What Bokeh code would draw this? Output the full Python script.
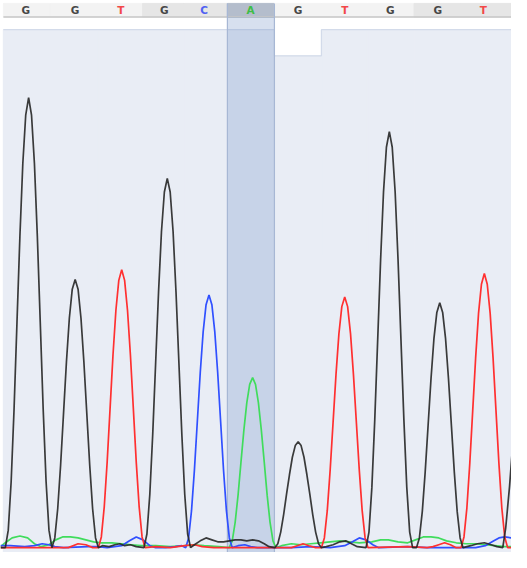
from bokeh.plotting import figure
from bokeh.models import Range1d, ColumnDataSource
from bokeh.embed import file_html
from bokeh.resources import INLINE
from bokeh.core.properties import value

# ---------------- data ----------------
bases = ["G", "G", "T", "G", "C", "A", "G", "T", "G", "G", "T"]
base_pos = [26, 77, 124, 169, 210, 258, 307, 355, 402, 451, 498]
quality = [60, 60, 60, 60, 60, 60, 57, 60, 60, 60, 60]
header_shade = ["light", "light", "light", "dark", "dark", "selected",
                "light", "light", "light", "dark", "dark"]
selected_index = 5

trace_G_x = [0, 5, 8, 11, 14, 17, 20, 23, 26, 29, 32, 35, 38, 41, 44, 47, 50, 53,
             56, 59, 62, 65, 68, 71, 74, 77, 80, 83, 86, 89, 92, 95, 98, 101,
             105, 112, 118, 123, 128, 134, 140,
             148, 151, 154, 157, 160, 163, 166, 169, 172, 175, 178, 181, 184, 187, 190, 193, 196,
             200, 206, 212, 218, 224, 230, 236, 242, 248, 254, 260, 266, 272, 277,
             283, 286, 289, 292, 295, 298, 301, 304, 307, 310, 313, 316, 319, 322, 325, 328, 331,
             336, 343, 350, 356, 362, 368,
             377, 380, 383, 386, 389, 392, 395, 398, 401, 404, 407, 410, 413, 416, 419, 422, 425,
             429, 432, 435, 438, 441, 444, 447, 450, 453, 456, 459, 462, 465, 468, 471, 474, 477,
             485, 492, 499, 506, 512, 518, 521, 525, 530]
trace_G_y = [0, 0, 18, 68, 143, 232, 320, 395, 445, 463, 445, 395, 320, 232, 143, 68, 18, 0,
             10, 40, 85, 138, 191, 236, 266, 276, 266, 236, 191, 138, 85, 40, 10, 0,
             2, 1, 3, 4, 2, 3, 1,
             0, 14, 55, 117, 190, 263, 325, 366, 380, 366, 325, 263, 190, 117, 55, 14, 0,
             3, 7, 10, 8, 6, 6, 7, 8, 8, 7, 8, 7, 4, 1,
             0, 4, 16, 34, 55, 75, 93, 105, 109, 105, 93, 75, 55, 34, 16, 4, 0,
             1, 3, 6, 7, 4, 1,
             0, 16, 62, 132, 214, 296, 366, 412, 428, 412, 366, 296, 214, 132, 62, 16, 0,
             0, 10, 37, 78, 126, 174, 215, 242, 252, 242, 215, 174, 126, 78, 37, 10, 0,
             2, 4, 5, 3, 1, 0, 20, 63, 130]

trace_T_x = [0, 70, 80, 88, 95,
             101, 104, 107, 110, 113, 116, 119, 122, 125, 128, 131, 134, 137, 140, 143, 146, 149,
             160, 175, 190, 200, 208, 220,
             300, 306, 312, 318, 325,
             331, 334, 337, 340, 343, 346, 349, 352, 355, 358, 361, 364, 367, 370, 373, 376, 379,
             420, 440, 446, 452, 458, 464, 470,
             475, 478, 481, 484, 487, 490, 493, 496, 499, 502, 505, 508, 511, 514, 517, 520, 523,
             527]
trace_T_y = [0, 0, 4, 3, 0,
             0, 11, 42, 88, 143, 198, 244, 275, 286, 275, 244, 198, 143, 88, 42, 11, 0,
             1, 0, 2, 3, 1, 0,
             0, 2, 4, 2, 0,
             0, 10, 38, 80, 129, 178, 220, 248, 258, 248, 220, 178, 129, 80, 38, 10, 0,
             1, 0, 1, 3, 5, 3, 0,
             0, 11, 41, 87, 141, 195, 241, 271, 282, 271, 241, 195, 141, 87, 41, 11, 0,
             0]

trace_C_x = [0, 10, 25, 35, 43, 50, 56, 65, 90, 100, 110, 125, 133, 140, 147, 154, 160, 170, 180, 187,
             191, 194, 197, 200, 203, 206, 209, 212, 215, 218, 221, 224, 227, 230, 233, 236, 239,
             245, 252, 258, 265, 300, 320, 340, 355, 363, 370, 377, 384, 390, 420, 440, 490, 500,
             507, 514, 520, 527]
trace_C_y = [2, 2, 1, 2, 4, 3, 1, 0, 1, 1, 0, 2, 7, 11, 8, 2, 0, 0, 1, 2,
             0, 10, 38, 80, 130, 180, 222, 250, 260, 250, 222, 180, 130, 80, 38, 10, 0,
             2, 3, 1, 0, 0, 1, 0, 2, 6, 10, 8, 3, 0, 1, 0, 0, 2,
             6, 10, 11, 10]

trace_A_x = [0, 5, 12, 20, 28, 35, 42, 50, 57, 64, 72, 80, 88, 96, 104, 115, 125, 135, 145, 160,
             175, 190, 200, 210, 225,
             236, 239, 242, 245, 248, 251, 254, 257, 260, 263, 266, 269, 272, 275, 278, 281, 284,
             290, 300, 310, 320, 330, 340, 350, 360, 370, 383, 392, 400, 410, 420, 428, 436, 444,
             452, 460, 470, 480, 490, 500, 510, 520, 527]
trace_A_y = [1, 5, 10, 12, 10, 4, 1, 3, 8, 11, 11, 10, 8, 6, 5, 5, 4, 3, 2, 2,
             1, 2, 3, 2, 1,
             0, 7, 26, 54, 88, 121, 149, 168, 175, 168, 149, 121, 88, 54, 26, 7, 0,
             2, 4, 3, 4, 5, 6, 7, 6, 5, 6, 8, 8, 6, 5, 8, 11, 11,
             10, 7, 5, 4, 4, 3, 2, 1, 1]

# ---------------- styling / layout ----------------
letter_colors = {"G": "#474747", "T": "#f24848", "C": "#5060f2", "A": "#3dbd45"}
trace_colors = {"G": "#262626", "T": "#ff3030", "C": "#3050ff", "A": "#40dc5c"}
shade_colors = {"light": "#f3f3f3", "dark": "#e6e6e6", "selected": "#b4bdcc"}
QFILL = "#e9edf5"

X0, X1 = 3, 527
HEADER_BOTTOM, HEADER_TOP, LETTER_Y = 546, 560, 553

bounds = [X0] + [(a + b) / 2 for a, b in zip(base_pos[:-1], base_pos[1:])] + [X1]

p = figure(width=511, height=552, output_backend="svg", toolbar_location=None,
           x_range=Range1d(0, 527), y_range=Range1d(-5, 563),
           x_axis_type=None, y_axis_type=None, min_border=0,
           background_fill_color="white", border_fill_color="white",
           outline_line_color=None)
p.extra_y_ranges = {"q": Range1d(0, 63.35)}

# quality bars (background) - stroked with their own fill colour to hide seams
qsrc = ColumnDataSource(dict(left=bounds[:-1], right=bounds[1:], top=quality,
                             bottom=[0] * len(quality)))
p.quad(left="left", right="right", top="top", bottom="bottom", source=qsrc,
       y_range_name="q", fill_color=QFILL, line_color=QFILL, line_width=1.2)
ox, oy = [], []
for i, q in enumerate(quality):
    ox += [bounds[i], bounds[i + 1]]
    oy += [q, q]
p.line(ox, oy, y_range_name="q", line_color="#d3dbea", line_width=1.2)

# header cells
hsrc = ColumnDataSource(dict(left=bounds[:-1], right=bounds[1:],
                             color=[shade_colors[s] for s in header_shade]))
p.quad(left="left", right="right", top=HEADER_TOP, bottom=HEADER_BOTTOM, source=hsrc,
       fill_color="color", line_color="color", line_width=1)
p.segment(x0=[X0], y0=[HEADER_BOTTOM], x1=[X1], y1=[HEADER_BOTTOM],
          line_color="#c6c6c6", line_width=1.5)

# selected column highlight
sl, sr = bounds[selected_index], bounds[selected_index + 1]
p.quad(left=[sl], right=[sr], top=[HEADER_BOTTOM], bottom=[-5],
       fill_color="#6f8fc4", fill_alpha=0.28, line_color=None)
p.segment(x0=[sl, sr], y0=[-5, -5], x1=[sl, sr], y1=[HEADER_TOP, HEADER_TOP],
          line_color="#a7b7d4", line_width=1.2)

# base letters
lsrc = ColumnDataSource(dict(x=base_pos, y=[LETTER_Y] * len(bases), text=bases,
                             color=[letter_colors[b] for b in bases]))
p.text(x="x", y="y", text="text", source=lsrc, text_color="color",
       text_font=value("DejaVu Sans"), text_font_style="bold",
       text_font_size="10.5px", text_align="center", text_baseline="middle")

# traces
p.line(trace_A_x, trace_A_y, line_color=trace_colors["A"], line_width=1.7)
p.line(trace_C_x, trace_C_y, line_color=trace_colors["C"], line_width=1.7)
p.line(trace_T_x, trace_T_y, line_color=trace_colors["T"], line_width=1.7)
p.line(trace_G_x, trace_G_y, line_color=trace_colors["G"], line_width=1.7, line_alpha=0.9)

open("out.html", "w").write(file_html(p, INLINE))
